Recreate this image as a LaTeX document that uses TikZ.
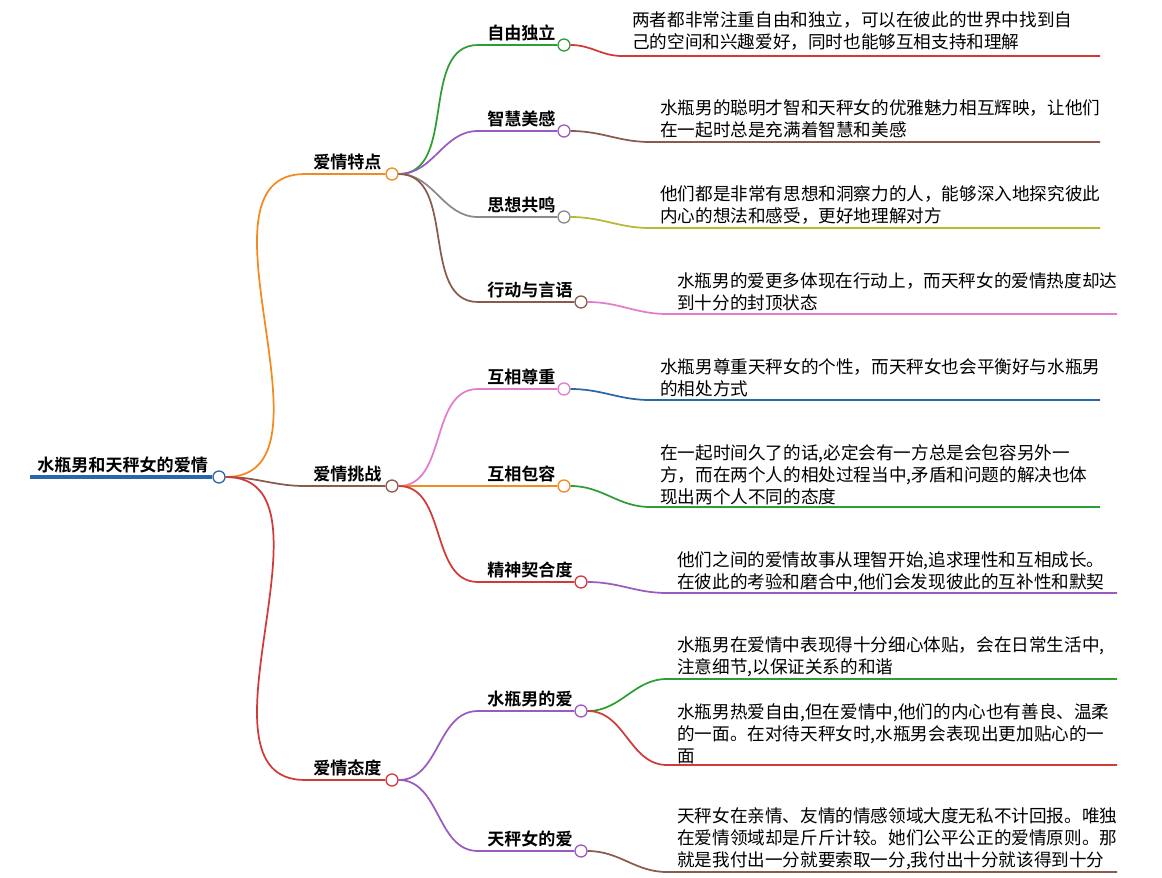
\documentclass[tikz,border=0pt]{standalone}
\usepackage{fontspec}
\setmainfont{Noto Sans CJK SC}
\newfontfamily\cjkb{Noto Sans CJK SC Bold}
\definecolor{cor}{HTML}{F28A1E}
\definecolor{cbr}{HTML}{8B5A4C}
\definecolor{cre}{HTML}{D23A3A}
\definecolor{cgr}{HTML}{2E9E34}
\definecolor{cpu}{HTML}{9A5BC0}
\definecolor{cgy}{HTML}{8A8A8A}
\definecolor{cpk}{HTML}{E27CCB}
\definecolor{cbl}{HTML}{2867A8}
\definecolor{col}{HTML}{B9B833}
\begin{document}
\begin{tikzpicture}[x=0.75pt,y=-0.75pt,
  lbl/.style={font=\cjkb\fontsize{12.8}{14}\selectfont,anchor=south west,inner sep=0,yshift=3pt},
  leaf/.style={font=\fontsize{13.2}{16.5}\selectfont,anchor=north west,inner sep=0,align=left},
  dot/.style={circle,draw,fill=white,minimum size=9pt,inner sep=0,line width=1pt},
  br/.style={line width=1.3pt}]
\useasboundingbox (0,0) rectangle (1162,877);
% root
\coordinate (r0) at (30,477);
\node[lbl] (root) at (37,477) {水瓶男和天秤女的爱情};
\draw[cbl,line width=2.5pt] (r0) -- (212,477);
\node[dot,draw=cbl] (rc) at (219,477) {};
% level1 macro
\newcommand\lone[5]{% name,x0,y,color,text
  \coordinate (#1s) at (#2,#3);
  \node[lbl] (#1t) at (#2+8,#3) {#5};
  \draw[#4,br] (rc.east) to[out=0,in=180] (#1s) -- (385,#3);
  \node[dot,draw=#4] (#1) at (392,#3) {};}
\lone{A}{305}{174}{cor}{爱情特点}
\lone{B}{305}{486}{cbr}{爱情挑战}
\lone{C}{305}{780}{cre}{爱情态度}
% level2 macro
\newcommand\ltwo[6]{% name,parent,y,color,text,circlex
  \coordinate (#1s) at (478,#3);
  \node[lbl] (#1t) at (487,#3) {#5};
  \draw[#4,br] (#2.east) to[out=0,in=180] (#1s) -- (#6-7,#3);
  \node[dot,draw=#4] (#1) at (#6,#3) {};}
\ltwo{A1}{A}{45}{cgr}{自由独立}{564}
\ltwo{A2}{A}{131}{cpu}{智慧美感}{564}
\ltwo{A3}{A}{217}{cgy}{思想共鸣}{564}
\ltwo{A4}{A}{302}{cbr}{行动与言语}{581}
\ltwo{B1}{B}{389}{cpk}{互相尊重}{564}
\ltwo{B2}{B}{486}{cor}{互相包容}{564}
\ltwo{B3}{B}{582}{cre}{精神契合度}{581}
\ltwo{C1}{C}{711}{cpu}{水瓶男的爱}{581}
\ltwo{C2}{C}{851}{cpu}{天秤女的爱}{581}
% leaves
\newcommand\leaf[6]{% name,parent,liney,color,xstart,xend
  \coordinate (#1s) at (#5-10,#3);
  \coordinate (#1e) at (#6,#3);
  \draw[#4,br] (#2.east) to[out=0,in=180] (#1s) -- (#1e);}
\leaf{L1}{A1}{56}{cre}{632}{1100}
\node[leaf] (T1) at (632,11) {两者都非常注重自由和独立，可以在彼此的世界中找到自\\己的空间和兴趣爱好，同时也能够互相支持和理解};
\leaf{L2}{A2}{142}{cbr}{660}{1100}
\node[leaf] (T2) at (660,99) {水瓶男的聪明才智和天秤女的优雅魅力相互辉映，让他们\\在一起时总是充满着智慧和美感};
\leaf{L3}{A3}{228}{col}{660}{1100}
\node[leaf] (T3) at (660,185) {他们都是非常有思想和洞察力的人，能够深入地探究彼此\\内心的想法和感受，更好地理解对方};
\leaf{L4}{A4}{314}{cpk}{677}{1117}
\node[leaf] (T4) at (677,272) {水瓶男的爱更多体现在行动上，而天秤女的爱情热度却达\\到十分的封顶状态};
\leaf{L5}{B1}{400}{cbl}{660}{1100}
\node[leaf] (T5) at (660,358) {水瓶男尊重天秤女的个性，而天秤女也会平衡好与水瓶男\\的相处方式};
\leaf{L6}{B2}{507}{cgr}{660}{1100}
\node[leaf] (T6) at (660,444) {在一起时间久了的话,必定会有一方总是会包容另外一\\方，而在两个人的相处过程当中,矛盾和问题的解决也体\\现出两个人不同的态度};
\leaf{L7}{B3}{593}{cpu}{677}{1117}
\node[leaf] (T7) at (677,551) {他们之间的爱情故事从理智开始,追求理性和互相成长。\\在彼此的考验和磨合中,他们会发现彼此的互补性和默契};
\leaf{L8}{C1}{679}{cgr}{677}{1117}
\node[leaf] (T8) at (677,636) {水瓶男在爱情中表现得十分细心体贴，会在日常生活中,\\注意细节,以保证关系的和谐};
\leaf{L9}{C1}{765}{cre}{677}{1117}
\node[leaf] (T9) at (677,703) {水瓶男热爱自由,但在爱情中,他们的内心也有善良、温柔\\的一面。在对待天秤女时,水瓶男会表现出更加贴心的一\\面};
\leaf{L10}{C2}{872}{cbr}{677}{1117}
\node[leaf] (T10) at (677,807) {天秤女在亲情、友情的情感领域大度无私不计回报。唯独\\在爱情领域却是斤斤计较。她们公平公正的爱情原则。那\\就是我付出一分就要索取一分,我付出十分就该得到十分};
\end{tikzpicture}
\end{document}
